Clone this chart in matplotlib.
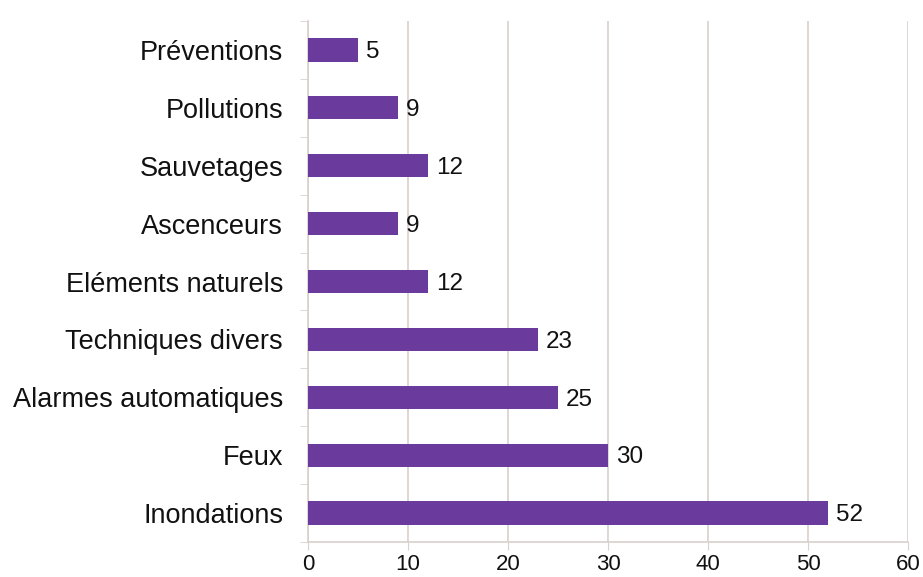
import matplotlib
matplotlib.use("Agg")
import matplotlib.pyplot as plt
import numpy as np

categories = ["Inondations", "Feux", "Alarmes automatiques", "Techniques divers",
              "Eléments naturels", "Ascenceurs", "Sauvetages", "Pollutions", "Préventions"]
values = [52, 30, 25, 23, 12, 9, 12, 9, 5]
xticks = [0, 10, 20, 30, 40, 50, 60]

plt.rcParams['font.family'] = ['Liberation Sans', 'DejaVu Sans']

fig = plt.figure(figsize=(9.23, 5.77), dpi=100)
ax = fig.add_axes([308/923, 1-542/577, 600/923, (542-21)/577])

bar_color = "#6a3b9c"
grid_color = "#d9d0cc"
y = np.arange(len(categories))
ax.barh(y, values, height=0.4, color=bar_color, zorder=3)
for yi, v in zip(y, values):
    ax.text(v + 0.8, yi - 0.04, str(v), va="center", ha="left", fontsize=17.5, color="#111111")

ax.set_xlim(0, 60)
ax.set_ylim(-0.5, len(categories) - 0.5)
ax.set_xticks(xticks)
ax.set_xticklabels([str(t) for t in xticks], fontsize=16)
ax.set_yticks(y)
ax.set_yticklabels(categories, fontsize=19.5, color="#111111")
ax.set_yticks(np.arange(-0.5, len(categories), 1.0), minor=True)
ax.tick_params(axis="y", which="major", length=0, pad=18)
ax.tick_params(axis="y", which="minor", length=6, color=grid_color, direction="out")
ax.tick_params(axis="x", length=6, color=grid_color, direction="out", pad=3, labelcolor="#111111")
ax.xaxis.grid(True, color=grid_color, linewidth=1.2, zorder=0)
for s in ["top", "right"]:
    ax.spines[s].set_visible(False)
for s in ["left", "bottom"]:
    ax.spines[s].set_color(grid_color)
    ax.spines[s].set_linewidth(1.2)

fig.savefig("out.png", dpi=100, facecolor="white")
